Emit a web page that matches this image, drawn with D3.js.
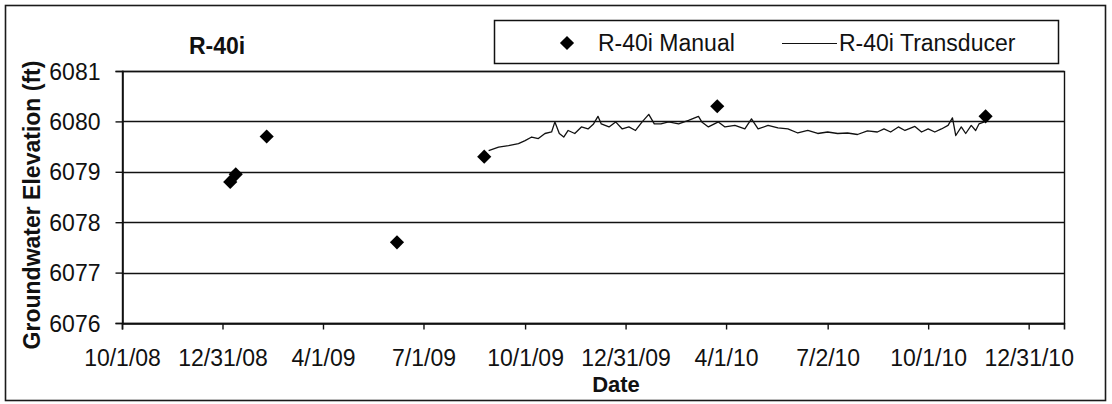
<!DOCTYPE html>
<html>
<head>
<meta charset="utf-8">
<script src="https://cdn.jsdelivr.net/npm/d3@7"></script>
<style>
  html, body { margin: 0; padding: 0; background: #fff; }
  svg { display: block; font-family: Arial, "Liberation Sans", sans-serif; }
</style>
</head>
<body>
<svg id="chart" width="1112" height="404"></svg>
<script>
// ---------- data ----------
const chartTitle = "R-40i";
const xAxisTitle = "Date";
const yAxisTitle = "Groundwater Elevation (ft)";
const seriesNames = ["R-40i Manual", "R-40i Transducer"];

const yTicks = [6076, 6077, 6078, 6079, 6080, 6081];
const xTickLabels = ["10/1/08", "12/31/08", "4/1/09", "7/1/09", "10/1/09", "12/31/09", "4/1/10", "7/2/10", "10/1/10", "12/31/10"];
const xDomain = ["2008-10-01", "2011-02-01"];

const manualDates = ["2009-01-07", "2009-01-12", "2009-02-09", "2009-06-07", "2009-08-25", "2010-03-24", "2010-11-22"];
const manualValues = [6078.80, 6078.95, 6079.70, 6077.60, 6079.30, 6080.30, 6080.10];

const transducerDates = [
  "2009-08-29","2009-09-07","2009-09-16","2009-09-25","2009-10-01","2009-10-07","2009-10-13","2009-10-19",
  "2009-10-25","2009-10-28","2009-11-01","2009-11-05","2009-11-09","2009-11-15","2009-11-21","2009-11-27",
  "2009-12-02","2009-12-06","2009-12-09","2009-12-16","2009-12-22","2009-12-28","2010-01-03","2010-01-09",
  "2010-01-15","2010-01-21","2010-01-26","2010-02-01","2010-02-08","2010-02-17","2010-02-26","2010-03-07",
  "2010-03-10","2010-03-16","2010-03-25","2010-03-31","2010-04-09","2010-04-18","2010-04-24","2010-04-30",
  "2010-05-09","2010-05-18","2010-05-27","2010-06-05","2010-06-14","2010-06-23","2010-07-02","2010-07-11",
  "2010-07-20","2010-07-29","2010-08-07","2010-08-16","2010-08-22","2010-08-28","2010-09-04","2010-09-10",
  "2010-09-19","2010-09-25","2010-10-01","2010-10-07","2010-10-13","2010-10-19","2010-10-23","2010-10-26",
  "2010-10-31","2010-11-04","2010-11-09","2010-11-13","2010-11-16","2010-11-21"
];
const transducerValues = [
  6079.42,6079.49,6079.52,6079.56,6079.62,6079.69,6079.66,6079.76,
  6079.79,6079.99,6079.76,6079.69,6079.82,6079.76,6079.89,6079.85,
  6079.95,6080.10,6079.95,6079.89,6079.99,6079.85,6079.89,6079.82,
  6079.99,6080.14,6079.95,6079.95,6079.99,6079.95,6080.02,6080.10,
  6079.99,6079.89,6079.99,6079.89,6079.92,6079.85,6080.05,6079.85,
  6079.92,6079.87,6079.85,6079.77,6079.82,6079.76,6079.79,6079.76,
  6079.77,6079.74,6079.81,6079.79,6079.85,6079.79,6079.89,6079.82,
  6079.90,6079.79,6079.85,6079.79,6079.85,6079.92,6080.07,6079.72,
  6079.89,6079.76,6079.92,6079.82,6079.95,6079.99
];

// ---------- build ----------
const parse = d3.utcParse("%Y-%m-%d");
const parseLabel = d3.utcParse("%m/%d/%y");
const manual = manualDates.map((d, i) => ({ date: parse(d), value: manualValues[i] }));
const transducer = transducerDates.map((d, i) => ({ date: parse(d), value: transducerValues[i] }));
const xTickDates = xTickLabels.map(s => parseLabel(s));

const svg = d3.select("#chart");
const FONT = "Arial, 'Liberation Sans', sans-serif";
const plot = { left: 122, right: 1064, top: 71, bottom: 323 };

const x = d3.scaleUtc().domain(xDomain.map(parse)).range([plot.left, plot.right]);
const y = d3.scaleLinear().domain([yTicks[0], yTicks[yTicks.length - 1]]).range([plot.bottom, plot.top]);

// outer frame
svg.append("rect").attr("x", 5.5).attr("y", 5.5).attr("width", 1100).attr("height", 395)
  .attr("fill", "#fff").attr("stroke", "#1a1a1a").attr("stroke-width", 1.6);

// gridlines
svg.append("g").selectAll("line").data(yTicks).join("line")
  .attr("x1", plot.left).attr("x2", plot.right)
  .attr("y1", d => Math.round(y(d)) + 0.5).attr("y2", d => Math.round(y(d)) + 0.5)
  .attr("stroke", "#111").attr("stroke-width", 1.4);

// plot border
svg.append("rect").attr("x", plot.left + 0.5).attr("y", plot.top + 0.5)
  .attr("width", plot.right - plot.left).attr("height", plot.bottom - plot.top)
  .attr("fill", "none").attr("stroke", "#111").attr("stroke-width", 1.4);

// y axis
const yAxis = d3.axisLeft(y).tickValues(yTicks).tickSize(7).tickPadding(15).tickFormat(d3.format("d"));
const gy = svg.append("g").attr("transform", `translate(${plot.left + 0.5},0)`).call(yAxis);
gy.select(".domain").attr("stroke", "#111").attr("stroke-width", 1.6);
gy.selectAll(".tick line").attr("stroke", "#111").attr("stroke-width", 1.4);
gy.selectAll(".tick text").attr("font-size", 23).attr("fill", "#111")
  .attr("font-family", FONT).attr("dy", "0.35em");

// x axis
const xAxis = d3.axisBottom(x).tickValues(xTickDates).tickSize(6).tickPadding(20)
  .tickFormat((d, i) => xTickLabels[i]);
const gx = svg.append("g").attr("transform", `translate(0,${plot.bottom + 0.5})`).call(xAxis);
gx.select(".domain").attr("stroke", "#111").attr("stroke-width", 1.6);
gx.selectAll(".tick line").attr("stroke", "#111").attr("stroke-width", 1.4);
gx.selectAll(".tick text").attr("font-size", 23).attr("fill", "#111")
  .attr("font-family", FONT);

// transducer line
const line = d3.line().x(d => x(d.date)).y(d => y(d.value));
svg.append("path").datum(transducer).attr("d", line)
  .attr("fill", "none").attr("stroke", "#111").attr("stroke-width", 1.3).attr("stroke-linejoin", "round");

// manual diamonds
const diamond = d3.symbol().type(d3.symbolSquare).size(100);
svg.append("g").selectAll("path").data(manual).join("path")
  .attr("d", diamond)
  .attr("transform", d => `translate(${x(d.date)},${y(d.value)}) rotate(45)`)
  .attr("fill", "#000");

// titles
svg.append("text").attr("x", 217).attr("y", 54).attr("text-anchor", "middle")
  .attr("font-size", 23).attr("font-weight", "bold").attr("fill", "#111").text(chartTitle);

svg.append("text").attr("x", 616).attr("y", 392).attr("text-anchor", "middle")
  .attr("font-size", 22).attr("font-weight", "bold").attr("fill", "#111").text(xAxisTitle);

svg.append("text").attr("transform", `translate(40,${(plot.top + plot.bottom) / 2 + 8}) rotate(-90)`)
  .attr("text-anchor", "middle").attr("font-size", 23).attr("font-weight", "bold").attr("fill", "#111")
  .text(yAxisTitle);

// legend
const lg = svg.append("g");
lg.append("rect").attr("x", 494.5).attr("y", 20.5).attr("width", 564).attr("height", 43)
  .attr("fill", "#fff").attr("stroke", "#111").attr("stroke-width", 1.5);
lg.append("path").attr("d", diamond).attr("transform", "translate(567,43) rotate(45)").attr("fill", "#000");
lg.append("text").attr("x", 598).attr("y", 51).attr("font-size", 23).attr("fill", "#111").text(seriesNames[0]);
lg.append("line").attr("x1", 782).attr("x2", 837).attr("y1", 43.5).attr("y2", 43.5)
  .attr("stroke", "#111").attr("stroke-width", 1.2);
lg.append("text").attr("x", 839).attr("y", 51).attr("font-size", 23).attr("fill", "#111").text(seriesNames[1]);
</script>
</body>
</html>
